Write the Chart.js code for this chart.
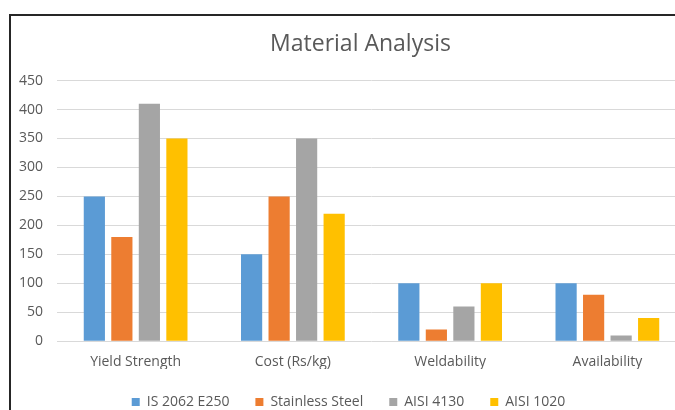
<!DOCTYPE html>
<html>
<head>
<meta charset="utf-8">
<script src="https://cdn.jsdelivr.net/npm/chart.js@4"></script>
<style>
  html, body { margin: 0; padding: 0; background: #fff; overflow: hidden; }
  #frame {
    position: absolute;
    left: 9px;
    top: 14px;
    width: 677px;
    height: 410px;
    border-left: 2px solid #262626;
    border-top: 2px solid #262626;
  }
  #chartBox { position: absolute; left: 0; top: 0; width: 675px; height: 403px; }
</style>
</head>
<body>
<div id="frame">
  <div id="chartBox"><canvas id="materialChart"></canvas></div>
</div>
<script>
const categories = ["Yield Strength", "Cost (Rs/kg)", "Weldability", "Availability"]
const seriesNames = ["IS 2062 E250", "Stainless Steel", "AISI 4130", "AISI 1020"]
const is2062 = [250, 150, 100, 100]
const stainless = [180, 250, 20, 80]
const aisi4130 = [410, 350, 60, 10]
const aisi1020 = [350, 220, 100, 40]
const seriesColors = ["#5B9BD5", "#ED7D31", "#A5A5A5", "#FFC000"]

const textColor = "#595959"
const fontFamily = "'Open Sans', sans-serif"

// the title sits a little right of the chart's centre
const titleShift = {
  id: "titleShift",
  afterLayout(chart) {
    chart.titleBlock.left += 12
    chart.titleBlock.right += 12
  },
}

const ctx = document.getElementById("materialChart").getContext("2d")

new Chart(ctx, {
  type: "bar",
  data: {
    labels: categories,
    datasets: [is2062, stainless, aisi4130, aisi1020].map((values, i) => ({
      label: seriesNames[i],
      data: values,
      backgroundColor: seriesColors[i],
      borderWidth: 0,
      barPercentage: 0.77,
      categoryPercentage: 0.7,
    })),
  },
  options: {
    responsive: true,
    maintainAspectRatio: false,
    animation: false,
    layout: { padding: { top: 15, right: 0, bottom: 0, left: 0 } },
    plugins: {
      title: {
        display: true,
        text: "Material Analysis",
        color: textColor,
        font: { family: fontFamily, size: 23, weight: "normal" },
        padding: { top: 0, bottom: 22 },
      },
      legend: {
        position: "bottom",
        labels: {
          color: textColor,
          font: { family: fontFamily, size: 14 },
          boxWidth: 8,
          boxHeight: 8,
          padding: 26,
        },
      },
      tooltip: { enabled: false },
    },
    scales: {
      x: {
        grid: { display: false, drawTicks: false },
        border: { display: false },
        ticks: {
          color: textColor,
          font: { family: fontFamily, size: 14 },
          padding: 12,
        },
        afterFit: (scale) => {
          scale.height -= 13
        },
      },
      y: {
        min: 0,
        max: 450,
        ticks: {
          stepSize: 50,
          color: textColor,
          font: { family: fontFamily, size: 14 },
          padding: 14,
        },
        grid: { color: "#D9D9D9", lineWidth: 1, drawTicks: false },
        border: { display: false },
        afterFit: (scale) => {
          scale.width = 46
        },
      },
    },
  },
  plugins: [titleShift],
})
</script>
</body>
</html>
